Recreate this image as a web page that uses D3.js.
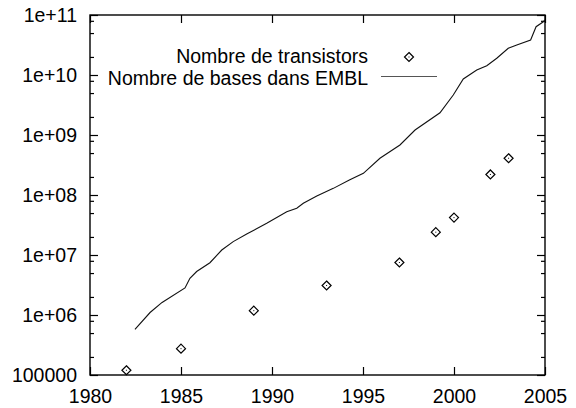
<!DOCTYPE html>
<html><head><meta charset="utf-8">
<script src="https://cdn.jsdelivr.net/npm/d3@7/dist/d3.min.js"></script>
<style>
html,body{margin:0;padding:0;background:#fff;}
svg text{font-family:"Liberation Sans",Arial,Helvetica,sans-serif;fill:#000;}
</style></head>
<body><svg id="c" width="576" height="408"></svg>
<script>
// Data
const transistorYears = [1982, 1985, 1989, 1993, 1997, 1999, 2000, 2002, 2003];
const transistorCounts = [1.2e5, 2.75e5, 1.18e6, 3.1e6, 7.5e6, 2.4e7, 4.2e7, 2.2e8, 4.1e8];
const emblYears = [1982.47, 1983.30, 1983.96, 1985.22, 1985.49, 1985.86, 1986.59, 1987.24, 1987.87, 1988.61,
  1989.71, 1990.81, 1991.36, 1991.72, 1992.46, 1993.37, 1994.25, 1995.02, 1995.93, 1997.03,
  1997.86, 1999.23, 1999.96, 2000.51, 2001.25, 2001.80, 2002.35, 2002.98, 2003.45, 2004.21,
  2004.51, 2004.91, 2005.0];
const emblBases = [5.78e5, 1.10e6, 1.62e6, 2.82e6, 4.09e6, 5.31e6, 7.44e6, 1.21e7, 1.67e7, 2.24e7,
  3.38e7, 5.27e7, 6.0e7, 7.27e7, 9.6e7, 1.29e8, 1.78e8, 2.30e8, 4.09e8, 6.81e8,
  1.21e9, 2.35e9, 4.64e9, 8.58e9, 1.21e10, 1.43e10, 1.90e10, 2.79e10, 3.16e10, 3.83e10,
  6.38e10, 7.73e10, 8.26e10];
const xTicks = [1980, 1985, 1990, 1995, 2000, 2005];
const yTicks = [1e5, 1e6, 1e7, 1e8, 1e9, 1e10, 1e11];
const yTickLabels = ["100000", "1e+06", "1e+07", "1e+08", "1e+09", "1e+10", "1e+11"];
const yMinorFactors = [2, 5, 8];
const legendLabels = ["Nombre de transistors", "Nombre de bases dans EMBL"];

const svg = d3.select("#c");
const L = 90, R = 545, T = 15, B = 375;
const x = d3.scaleLinear().domain([1980, 2005]).range([L, R]);
const y = d3.scaleLog().domain([1e5, 1e11]).range([B, T]);
const fs = 19.5;

// minor ticks
const minor = [];
yTicks.slice(0, -1).forEach(d => yMinorFactors.forEach(f => minor.push(d * f)));

function styleAxis(g) {
  g.select(".domain").remove();
  g.selectAll("line").attr("stroke", "#000").attr("stroke-width", 1.2);
}
// bottom
svg.append("g").attr("transform", `translate(0,${B})`)
  .call(d3.axisBottom(x).tickValues(xTicks).tickSizeInner(-8).tickSizeOuter(0).tickPadding(14).tickFormat(d3.format("d")))
  .call(styleAxis)
  .call(g => g.selectAll("text").attr("font-size", fs).attr("font-family", "Liberation Sans, Arial, sans-serif"));
// top
svg.append("g").attr("transform", `translate(0,${T})`)
  .call(d3.axisTop(x).tickValues(xTicks).tickSizeInner(-8).tickSizeOuter(0).tickFormat(""))
  .call(styleAxis);
// left major
svg.append("g").attr("transform", `translate(${L},0)`)
  .call(d3.axisLeft(y).tickValues(yTicks).tickSizeInner(-8).tickSizeOuter(0).tickPadding(13)
    .tickFormat((d, i) => yTickLabels[i]))
  .call(styleAxis)
  .call(g => g.selectAll("text").attr("font-size", fs).attr("font-family", "Liberation Sans, Arial, sans-serif"));
// left minor
svg.append("g").attr("transform", `translate(${L},0)`)
  .call(d3.axisLeft(y).tickValues(minor).tickSizeInner(-4).tickSizeOuter(0).tickFormat(""))
  .call(styleAxis);
// right major/minor
svg.append("g").attr("transform", `translate(${R},0)`)
  .call(d3.axisRight(y).tickValues(yTicks).tickSizeInner(-8).tickSizeOuter(0).tickFormat(""))
  .call(styleAxis);
svg.append("g").attr("transform", `translate(${R},0)`)
  .call(d3.axisRight(y).tickValues(minor).tickSizeInner(-4).tickSizeOuter(0).tickFormat(""))
  .call(styleAxis);

// border
svg.append("rect").attr("x", L).attr("y", T).attr("width", R - L).attr("height", B - T)
  .attr("fill", "none").attr("stroke", "#000").attr("stroke-width", 1.4);

// EMBL line
const line = d3.line().x((d, i) => x(emblYears[i])).y((d, i) => y(emblBases[i]));
svg.append("path").datum(emblBases).attr("d", line)
  .attr("fill", "none").attr("stroke", "#111").attr("stroke-width", 1.1);

// transistors diamonds
const diamond = (cx, cy) => `M${cx},${cy - 4.5}L${cx + 4.5},${cy}L${cx},${cy + 4.5}L${cx - 4.5},${cy}Z`;
const pts = svg.append("g");
transistorYears.forEach((yr, i) => {
  const cx = x(yr), cy = y(transistorCounts[i]);
  pts.append("path").attr("d", diamond(cx, cy)).attr("fill", "none").attr("stroke", "#000").attr("stroke-width", 1.2);
  pts.append("rect").attr("x", cx - 0.5).attr("y", cy - 0.5).attr("width", 1).attr("height", 1).attr("fill", "#000");
});

// legend
const lg = svg.append("g");
lg.append("text").attr("x", 368).attr("y", 62.5).attr("text-anchor", "end").attr("font-size", fs).text(legendLabels[0]);
lg.append("text").attr("x", 368).attr("y", 84.5).attr("text-anchor", "end").attr("font-size", fs).text(legendLabels[1]);
lg.append("path").attr("d", diamond(409, 57)).attr("fill", "none").attr("stroke", "#000").attr("stroke-width", 1.2);
lg.append("rect").attr("x", 408.5).attr("y", 56.5).attr("width", 1).attr("height", 1).attr("fill", "#000");
lg.append("line").attr("x1", 381).attr("x2", 437).attr("y1", 76.5).attr("y2", 76.5)
  .attr("stroke", "#555").attr("stroke-width", 1.2);
</script></body></html>
